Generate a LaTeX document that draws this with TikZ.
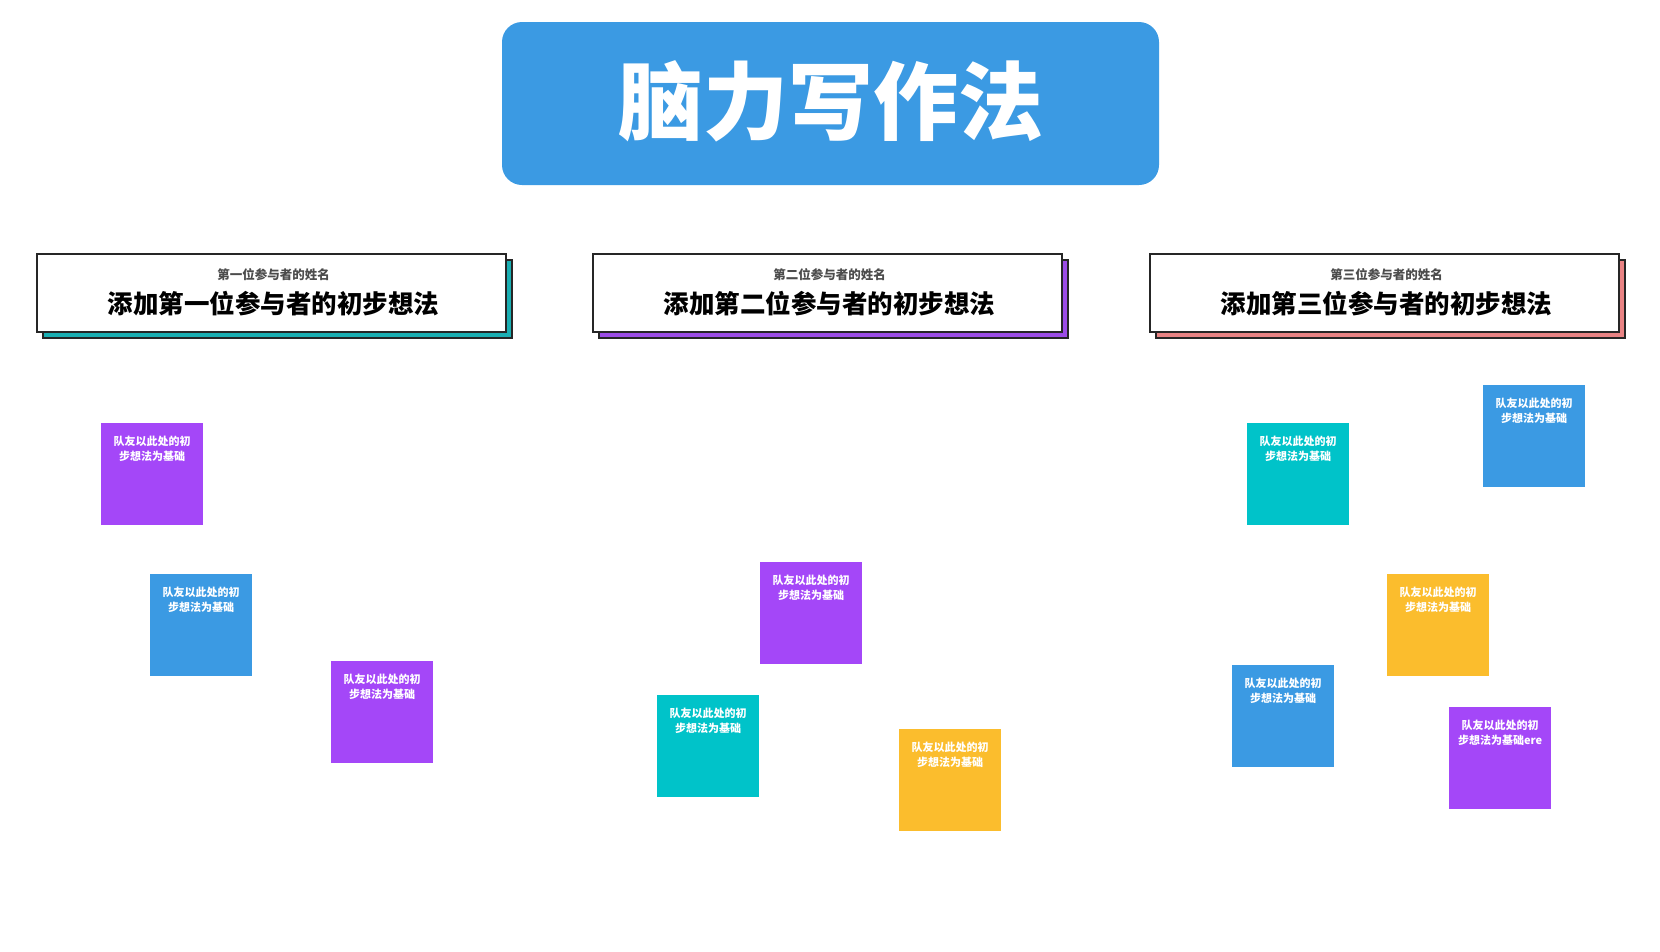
\documentclass[tikz,border=0pt]{standalone}
\usepackage{fontspec}
\newfontfamily\cjk{Noto Sans CJK SC}
\definecolor{titleblue}{HTML}{3B9AE3}
\definecolor{notepurple}{HTML}{A447F8}
\definecolor{noteblue}{HTML}{3B9AE3}
\definecolor{noteteal}{HTML}{00C3C9}
\definecolor{noteyellow}{HTML}{FBBD2D}
\definecolor{shadeteal}{HTML}{1AAFB3}
\definecolor{shadepurple}{HTML}{9C4DE6}
\definecolor{shadepink}{HTML}{E98384}
\tikzset{
  headbox/.style={draw=black!85, line width=1.2pt, fill=white, minimum width=469pt, minimum height=78pt, inner sep=0pt},
  headshade/.style={headbox, fill=#1},
  subname/.style={font=\cjk\bfseries\fontsize{12.5}{15}\selectfont, text=black!70, inner sep=0pt},
  mainidea/.style={font=\cjk\bfseries\fontsize{25.5}{30}\selectfont, text=black, inner sep=0pt},
  sticky/.style={fill=#1, minimum width=102pt, minimum height=102pt, anchor=north west, inner sep=0pt},
  stickytext/.style={font=\cjk\bfseries\fontsize{11}{15.2}\selectfont, text=white, align=center, anchor=north, inner sep=0pt, yshift=-12.5pt}
}
\begin{document}
\begin{tikzpicture}[x=1pt, y=-1pt]
            \useasboundingbox (0,0) rectangle (1660,951);

            % Title
            \node[fill=titleblue, rounded corners=20pt, minimum width=657pt, minimum height=163pt] (title) at (830.5,103.5) {};
            \node[font=\cjk\bfseries\fontsize{85}{90}\selectfont, text=white, inner sep=0pt] (titletext) at (830.5,101) {脑力写作法};

            % Header boxes
            \node[headshade=shadeteal] (h1s) at (277.5,299) {};
            \node[headbox] (h1) at (271.5,293) {};
            \node[subname] (h1name) at (273.5,275) {第一位参与者的姓名};
            \node[mainidea] (h1idea) at (273.5,304) {添加第一位参与者的初步想法};

            \node[headshade=shadepurple] (h2s) at (833.5,299) {};
            \node[headbox] (h2) at (827.5,293) {};
            \node[subname] (h2name) at (829.5,275) {第二位参与者的姓名};
            \node[mainidea] (h2idea) at (829.5,304) {添加第二位参与者的初步想法};

            \node[headshade=shadepink] (h3s) at (1390.5,299) {};
            \node[headbox] (h3) at (1384.5,293) {};
            \node[subname] (h3name) at (1386.5,275) {第三位参与者的姓名};
            \node[mainidea] (h3idea) at (1386.5,304) {添加第三位参与者的初步想法};

            % First participant notes
            \node[sticky=notepurple] (a1) at (101,423) {};
            \node[stickytext] (a1t) at (a1.north) {队友以此处的初\\步想法为基础};
            \node[sticky=noteblue] (a2) at (150,574) {};
            \node[stickytext] (a2t) at (a2.north) {队友以此处的初\\步想法为基础};
            \node[sticky=notepurple] (a3) at (331,661) {};
            \node[stickytext] (a3t) at (a3.north) {队友以此处的初\\步想法为基础};

            % Second participant notes
            \node[sticky=notepurple] (b1) at (760,562) {};
            \node[stickytext] (b1t) at (b1.north) {队友以此处的初\\步想法为基础};
            \node[sticky=noteteal] (b2) at (657,695) {};
            \node[stickytext] (b2t) at (b2.north) {队友以此处的初\\步想法为基础};
            \node[sticky=noteyellow] (b3) at (899,729) {};
            \node[stickytext] (b3t) at (b3.north) {队友以此处的初\\步想法为基础};

            % Third participant notes
            \node[sticky=noteteal] (c1) at (1247,423) {};
            \node[stickytext] (c1t) at (c1.north) {队友以此处的初\\步想法为基础};
            \node[sticky=noteblue] (c2) at (1483,385) {};
            \node[stickytext] (c2t) at (c2.north) {队友以此处的初\\步想法为基础};
            \node[sticky=noteyellow] (c3) at (1387,574) {};
            \node[stickytext] (c3t) at (c3.north) {队友以此处的初\\步想法为基础};
            \node[sticky=noteblue] (c4) at (1232,665) {};
            \node[stickytext] (c4t) at (c4.north) {队友以此处的初\\步想法为基础};
            \node[sticky=notepurple] (c5) at (1449,707) {};
            \node[stickytext] (c5t) at (c5.north) {队友以此处的初\\步想法为基础ere};
        \end{tikzpicture}
\end{document}
